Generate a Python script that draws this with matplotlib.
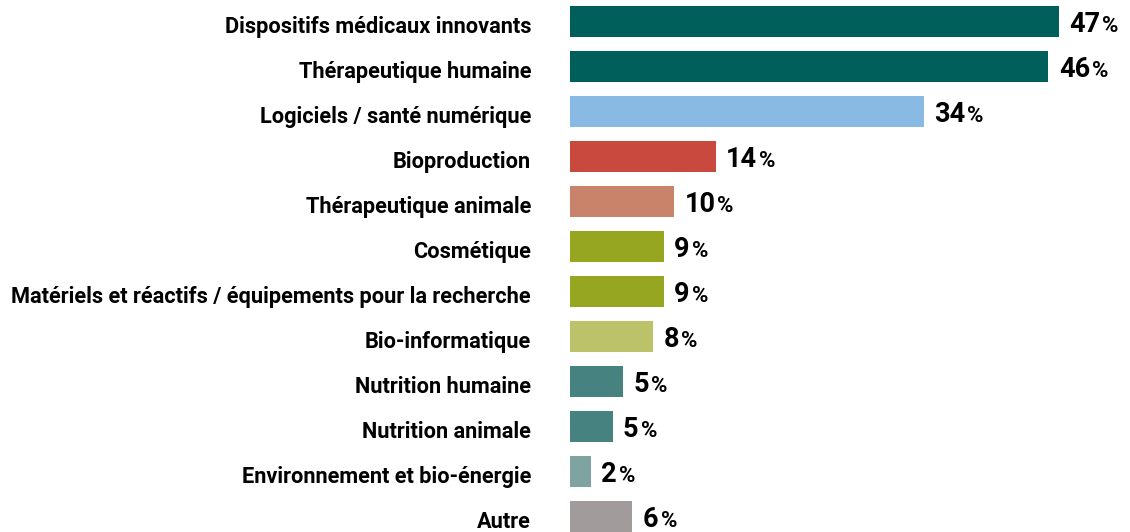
import matplotlib
matplotlib.use("Agg")
import matplotlib.pyplot as plt
import matplotlib.transforms as mtransforms

categories = [
    "Dispositifs médicaux innovants",
    "Thérapeutique humaine",
    "Logiciels / santé numérique",
    "Bioproduction",
    "Thérapeutique animale",
    "Cosmétique",
    "Matériels et réactifs / équipements pour la recherche",
    "Bio-informatique",
    "Nutrition humaine",
    "Nutrition animale",
    "Environnement et bio-énergie",
    "Autre",
]
# longueur des barres
shares = [47, 46, 34, 14, 10, 9, 9, 8, 5.1, 4.1, 2, 6]
# valeurs affichées
value_labels = ["47", "46", "34", "14", "10", "9", "9", "8", "5", "5", "2", "6"]
colors = ["#005f5a", "#005f5a", "#88bae4", "#c9493f", "#c8836a", "#97a621",
          "#97a621", "#bbc26a", "#46827f", "#46827f", "#7fa3a1", "#a29b9b"]

fig = plt.figure(figsize=(11.3, 5.32), dpi=100)
ax = fig.add_axes([570 / 1130, 0, 560 / 1130, 1])

y = list(range(len(categories)))
ax.barh(y, shares, height=0.69, color=colors)

ax.set_xlim(0, 560 / 10.4)
ax.set_ylim(11 + 15.5 / 45, -21.5 / 45)

ax.set_yticks(y)
ax.set_yticklabels(categories, fontsize=15.7, fontweight="bold", family="Roboto")
ax.tick_params(axis="y", length=0, pad=28)
ax.tick_params(axis="x", bottom=False, labelbottom=False)
for s in ax.spines.values():
    s.set_visible(False)

# labels un peu plus bas que le centre de la barre
shift = mtransforms.ScaledTranslation(0, -2 / 72, fig.dpi_scale_trans)
for lbl in ax.get_yticklabels():
    lbl.set_transform(lbl.get_transform() + shift)

num_font = "Roboto"
for i, (v, lab) in enumerate(zip(shares, value_labels)):
    t = ax.annotate(lab, xy=(v, i), xytext=(7.5, -7.8), textcoords="offset points",
                    fontsize=19.5, fontweight="bold", family=num_font,
                    va="baseline", ha="left", color="black")
    ax.annotate("%", xy=(1, 0), xycoords=t, xytext=(1.5, 1),
                textcoords="offset points", fontsize=16, fontweight="bold",
                family=num_font, va="bottom", ha="left", color="black")

fig.savefig("out.png", dpi=100)
